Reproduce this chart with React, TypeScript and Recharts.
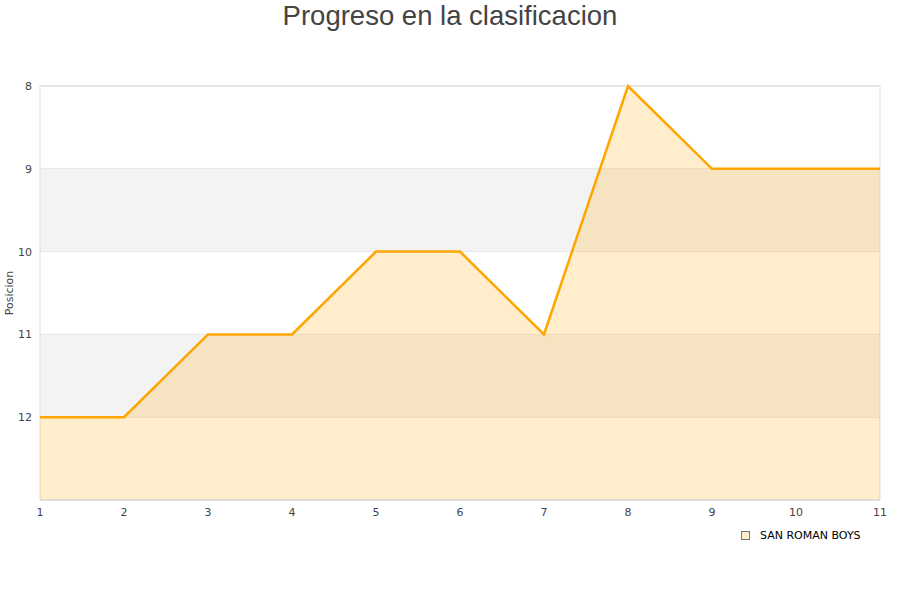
import {
  Area,
  CartesianGrid,
  ComposedChart,
  Label,
  Line,
  ReferenceArea,
  XAxis,
  YAxis,
} from "recharts";

// Matchday numbers along the x axis.
const JORNADAS = [1, 2, 3, 4, 5, 6, 7, 8, 9, 10, 11];
// League position after each matchday (lower number is better).
const POSICION = [12, 12, 11, 11, 10, 10, 11, 8, 9, 9, 9];
const TEAM = "SAN ROMAN BOYS";
const Y_TICKS = [8, 9, 10, 11, 12];
// Shaded horizontal bands, [from, to].
const BANDS = [
  [9, 10],
  [11, 12],
];

const ORANGE = "#FFA500";
const TEXT = "#444444";
const FONT = "'DejaVu Sans', sans-serif";

const data = JORNADAS.map((j, i) => ({ jornada: j, pos: POSICION[i] }));

function LegendBox() {
  return (
    <div
      style={{
        position: "absolute",
        left: 741,
        top: 529,
        display: "flex",
        alignItems: "center",
        fontFamily: FONT,
        fontSize: 11,
        color: "#000",
      }}
    >
      <span
        style={{
          display: "inline-block",
          width: 7,
          height: 7,
          background: "#FFEDCC",
          border: "1px solid #777",
          marginRight: 10,
        }}
      />
      {TEAM}
    </div>
  );
}

export default function App() {
  return (
    <div style={{ position: "absolute", left: 0, top: 0, width: 900, height: 600, background: "#fff" }}>
      <div
        style={{
          position: "absolute",
          top: 0,
          width: 900,
          textAlign: "center",
          fontFamily: "'Liberation Sans', Arial, sans-serif",
          fontSize: 27.5,
          color: TEXT,
          lineHeight: "32px",
        }}
      >
        Progreso en la clasificacion
      </div>
      <ComposedChart width={900} height={600} data={data} margin={{ top: 86, right: 20, bottom: 70, left: 0 }}>
        {BANDS.map(([a, b], i) => (
          <ReferenceArea key={i} y1={a} y2={b} x1={1} x2={11} fill="#F3F3F3" fillOpacity={1} stroke="none" />
        ))}
        <CartesianGrid vertical={false} stroke="#DDDDDD" />
        <ReferenceArea x1={1} x2={11} y1={8} y2={13} fill="none" stroke="#DDDDDD" />
        <XAxis
          dataKey="jornada"
          type="number"
          domain={[1, 11]}
          ticks={JORNADAS}
          tickLine={false}
          axisLine={{ stroke: "#DDDDDD" }}
          tick={{ fill: TEXT, fontSize: 11, fontFamily: FONT }}
        />
        <YAxis
          reversed
          type="number"
          domain={[8, 13]}
          ticks={Y_TICKS}
          width={40}
          tickLine={false}
          axisLine={false}
          tick={{ fill: TEXT, fontSize: 11, fontFamily: FONT }}
        >
          <Label
            value="Posicion"
            angle={-90}
            position="insideLeft"
            offset={9}
            style={{ fill: TEXT, fontSize: 11, fontFamily: FONT, textAnchor: "middle" }}
          />
        </YAxis>
        <Area
          dataKey="pos"
          type="linear"
          baseValue="dataMax"
          fill={ORANGE}
          fillOpacity={0.2}
          stroke="none"
          isAnimationActive={false}
          legendType="none"
        />
        <Line
          dataKey="pos"
          type="linear"
          stroke={ORANGE}
          strokeWidth={2.5}
          dot={false}
          activeDot={false}
          isAnimationActive={false}
          legendType="none"
        />
      </ComposedChart>
      <LegendBox />
    </div>
  );
}
